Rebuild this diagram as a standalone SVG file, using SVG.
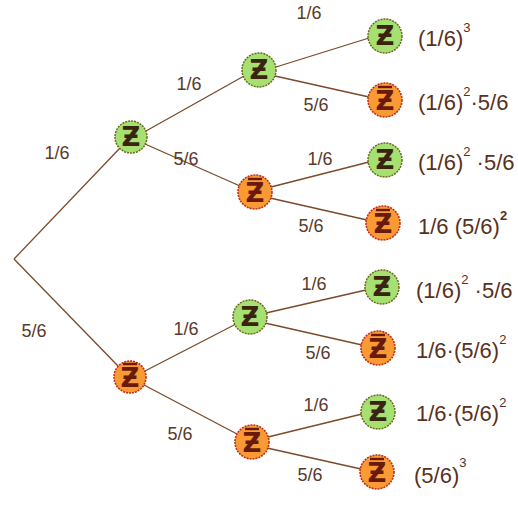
<svg xmlns="http://www.w3.org/2000/svg" width="518" height="505" viewBox="0 0 518 505">
<defs>
<style>
.e{stroke:#7a4a2a;stroke-width:1.3;fill:none}
.g circle{fill:#a6e070;stroke:#6a6a20;stroke-width:1.5;stroke-dasharray:2 1}
.o circle{fill:#f99a34;stroke:#c0301a;stroke-width:1.6;stroke-dasharray:2 1}
.z{font-family:"DejaVu Sans",sans-serif;font-size:26px;font-weight:bold;text-anchor:middle;fill:#3a2410}
.o .z{fill:#6a1a0a}
.bar{stroke:#6a1a0a;stroke-width:2.4}
.l{font-family:"Liberation Sans",Arial,sans-serif;font-size:18px;fill:#5a3a2a;text-anchor:middle}
.f{font-family:"Liberation Sans",Arial,sans-serif;font-size:22px;fill:#5a3020}
.s{font-size:13px}
</style>
</defs>
<rect width="518" height="505" fill="#ffffff"/>
<g id="connectors">
<line class="e" x1="14" y1="259" x2="120" y2="148"/>
<line class="e" x1="14" y1="259" x2="119" y2="367"/>
<line class="e" x1="146" y1="131" x2="244" y2="76"/>
<line class="e" x1="145" y1="144" x2="240" y2="186"/>
<line class="e" x1="145" y1="371" x2="236" y2="324"/>
<line class="e" x1="144" y1="385" x2="237" y2="434"/>
<line class="e" x1="276" y1="67" x2="369" y2="38"/>
<line class="e" x1="275" y1="76" x2="369" y2="97"/>
<line class="e" x1="271" y1="187" x2="369" y2="162"/>
<line class="e" x1="270" y1="198" x2="367" y2="220"/>
<line class="e" x1="266" y1="313" x2="366" y2="290"/>
<line class="e" x1="265" y1="323" x2="362" y2="345"/>
<line class="e" x1="268" y1="437" x2="362" y2="414"/>
<line class="e" x1="267" y1="448" x2="361" y2="469"/>
</g>
<g id="edge-labels">
<text class="l" x="57" y="159">1/6</text>
<text class="l" x="34" y="337">5/6</text>
<text class="l" x="189" y="90">1/6</text>
<text class="l" x="186" y="165">5/6</text>
<text class="l" x="186" y="335">1/6</text>
<text class="l" x="180" y="440">5/6</text>
<text class="l" x="309" y="19">1/6</text>
<text class="l" x="316" y="111">5/6</text>
<text class="l" x="320" y="165">1/6</text>
<text class="l" x="311" y="232">5/6</text>
<text class="l" x="314" y="290">1/6</text>
<text class="l" x="318" y="359">5/6</text>
<text class="l" x="316" y="411">1/6</text>
<text class="l" x="310" y="481">5/6</text>
</g>
<g id="n1" class="g"><circle cx="131" cy="137" r="16"/><text class="z" x="131" y="146">Ƶ</text></g>
<g id="n2" class="o"><circle cx="130" cy="377" r="16"/><line class="bar" x1="123" y1="364" x2="137" y2="364"/><text class="z" x="130" y="387">Ƶ</text></g>
<g id="n3" class="g"><circle cx="259" cy="70" r="17"/><text class="z" x="259" y="79">Ƶ</text></g>
<g id="n4" class="o"><circle cx="255" cy="192" r="17"/><line class="bar" x1="248" y1="179" x2="262" y2="179"/><text class="z" x="255" y="202">Ƶ</text></g>
<g id="n5" class="g"><circle cx="250" cy="317" r="17"/><text class="z" x="250" y="326">Ƶ</text></g>
<g id="n6" class="o"><circle cx="252" cy="442" r="17"/><line class="bar" x1="245" y1="429" x2="259" y2="429"/><text class="z" x="252" y="452">Ƶ</text></g>
<g id="n7" class="g"><circle cx="385" cy="36" r="17"/><text class="z" x="385" y="45">Ƶ</text></g>
<g id="n8" class="o"><circle cx="385" cy="100" r="17"/><line class="bar" x1="378" y1="87" x2="392" y2="87"/><text class="z" x="385" y="110">Ƶ</text></g>
<g id="n9" class="g"><circle cx="385" cy="160" r="17"/><text class="z" x="385" y="169">Ƶ</text></g>
<g id="n10" class="o"><circle cx="383" cy="223" r="17"/><line class="bar" x1="376" y1="210" x2="390" y2="210"/><text class="z" x="383" y="233">Ƶ</text></g>
<g id="n11" class="g"><circle cx="382" cy="287" r="17"/><text class="z" x="382" y="296">Ƶ</text></g>
<g id="n12" class="o"><circle cx="378" cy="348" r="17"/><line class="bar" x1="371" y1="335" x2="385" y2="335"/><text class="z" x="378" y="358">Ƶ</text></g>
<g id="n13" class="g"><circle cx="378" cy="412" r="17"/><text class="z" x="378" y="421">Ƶ</text></g>
<g id="n14" class="o"><circle cx="377" cy="472" r="17"/><line class="bar" x1="370" y1="459" x2="384" y2="459"/><text class="z" x="377" y="482">Ƶ</text></g>
<g id="results">
<text class="f" x="418" y="46">(1/6)<tspan class="s" dy="-14">3</tspan></text>
<text class="f" x="418" y="110">(1/6)<tspan class="s" dy="-14">2</tspan><tspan dy="14">·5/6</tspan></text>
<text class="f" x="418" y="170">(1/6)<tspan class="s" dy="-14">2</tspan><tspan dy="14"> ·5/6</tspan></text>
<text class="f" x="418" y="234">1/6 (5/6)<tspan class="s" dy="-14" font-weight="bold">2</tspan></text>
<text class="f" x="416" y="298">(1/6)<tspan class="s" dy="-14">2</tspan><tspan dy="14"> ·5/6</tspan></text>
<text class="f" x="416" y="358">1/6·(5/6)<tspan class="s" dy="-14">2</tspan></text>
<text class="f" x="416" y="421">1/6·(5/6)<tspan class="s" dy="-14">2</tspan></text>
<text class="f" x="414" y="483">(5/6)<tspan class="s" dy="-16">3</tspan></text>
</g>
</svg>
